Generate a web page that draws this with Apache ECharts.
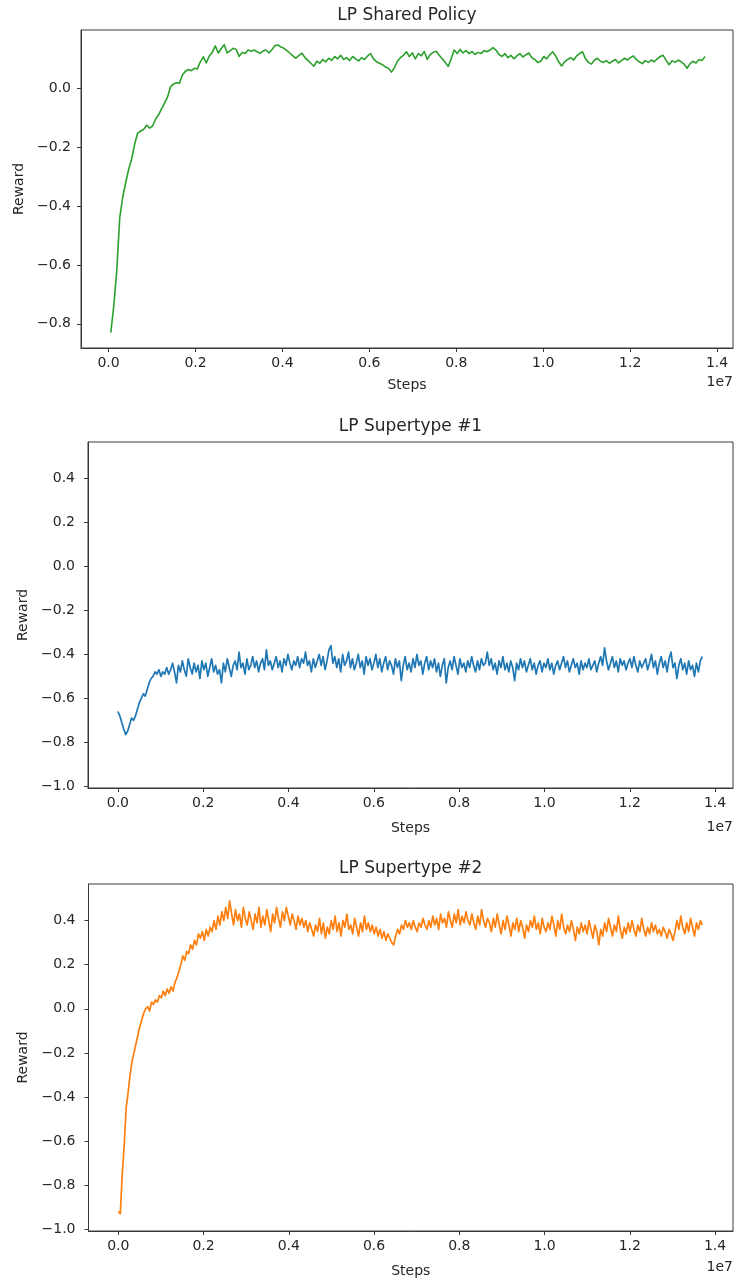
<!DOCTYPE html>
<html>
<head>
<meta charset="utf-8">
<title>LP reward curves</title>
<script src="https://cdn.jsdelivr.net/npm/echarts@6/dist/echarts.min.js"></script>
<style>
  html, body { margin: 0; padding: 0; background: #ffffff; }
  #chart { width: 734px; height: 1285px; }
</style>
</head>
<body>
<div id="chart"></div>
<script>
// ---- data (steps are in units of 1e7) ----
const panelTitles = ['LP Shared Policy', 'LP Supertype #1', 'LP Supertype #2'];

// shared policy: smoothed reward, logged at a regular step interval
const sharedStart = 0.005;
const sharedStepSize = 0.00687;
const sharedReward = [
  -0.83, -0.74, -0.62, -0.44, -0.37, -0.32, -0.275, -0.24, -0.19, -0.152,
  -0.145, -0.14, -0.125, -0.135, -0.128, -0.105, -0.09, -0.07, -0.05, -0.03,
  0.005, 0.015, 0.019, 0.017, 0.045, 0.058, 0.064, 0.06, 0.068, 0.066,
  0.09, 0.107, 0.086, 0.11, 0.122, 0.144, 0.12, 0.135, 0.148, 0.12,
  0.128, 0.136, 0.132, 0.108, 0.122, 0.118, 0.13, 0.126, 0.13, 0.124,
  0.119, 0.127, 0.13, 0.12, 0.132, 0.145, 0.147, 0.14, 0.136, 0.128,
  0.119, 0.11, 0.102, 0.112, 0.119, 0.105, 0.095, 0.085, 0.075, 0.092,
  0.085, 0.098, 0.09, 0.102, 0.095, 0.108, 0.1, 0.112, 0.098, 0.104,
  0.094, 0.108, 0.1, 0.093, 0.104, 0.098, 0.11, 0.118, 0.1, 0.09,
  0.085, 0.08, 0.072, 0.068, 0.055, 0.07, 0.092, 0.104, 0.112, 0.124,
  0.108, 0.12, 0.1, 0.118, 0.11, 0.125, 0.098, 0.115, 0.122, 0.126,
  0.112, 0.1, 0.088, 0.074, 0.1, 0.13, 0.118, 0.132, 0.12, 0.128,
  0.118, 0.125, 0.115, 0.122, 0.118, 0.128, 0.124, 0.13, 0.138, 0.13,
  0.115, 0.108, 0.118, 0.104, 0.112, 0.1, 0.11, 0.118, 0.106, 0.114,
  0.12, 0.104, 0.098, 0.088, 0.092, 0.108, 0.1, 0.114, 0.124, 0.11,
  0.09, 0.076, 0.09, 0.098, 0.104, 0.096, 0.11, 0.118, 0.124, 0.1,
  0.088, 0.082, 0.096, 0.102, 0.092, 0.088, 0.094, 0.085, 0.092, 0.098,
  0.086, 0.094, 0.102, 0.096, 0.104, 0.11, 0.098, 0.09, 0.084, 0.094,
  0.088, 0.096, 0.09, 0.1, 0.108, 0.112, 0.095, 0.08, 0.094, 0.088,
  0.096, 0.09, 0.082, 0.068, 0.084, 0.092, 0.086, 0.098, 0.094, 0.108
];

// supertype runs: raw episode reward
const superStart = 0;
const superStepSize = 0.004582;
const super1Reward = [
  -0.66, -0.68, -0.71, -0.74, -0.765, -0.75, -0.72, -0.69, -0.70, -0.68,
  -0.65, -0.62, -0.6, -0.58, -0.59, -0.56, -0.53, -0.51, -0.5, -0.48,
  -0.49, -0.47, -0.5, -0.48, -0.49, -0.46, -0.49, -0.47, -0.44, -0.48,
  -0.53, -0.45, -0.48, -0.43, -0.47, -0.5, -0.42, -0.46, -0.49, -0.44,
  -0.48, -0.45, -0.51, -0.43, -0.47, -0.44, -0.5, -0.46, -0.42, -0.48,
  -0.45, -0.49, -0.47, -0.53, -0.44, -0.48, -0.42, -0.46, -0.5, -0.45,
  -0.43, -0.47, -0.39, -0.46, -0.44, -0.49, -0.42, -0.47, -0.45, -0.41,
  -0.46, -0.43, -0.48, -0.44, -0.42, -0.47, -0.38, -0.45, -0.43, -0.47,
  -0.44, -0.41, -0.46, -0.43, -0.48, -0.42, -0.45, -0.4, -0.44, -0.47,
  -0.43, -0.45, -0.41, -0.46, -0.42, -0.44, -0.39, -0.45, -0.43, -0.48,
  -0.42, -0.46, -0.43, -0.4, -0.45, -0.41, -0.47, -0.43, -0.38, -0.36,
  -0.44, -0.41, -0.46, -0.42, -0.48, -0.4, -0.45, -0.43, -0.39, -0.46,
  -0.42, -0.47, -0.44, -0.4, -0.46, -0.43, -0.49, -0.41, -0.45, -0.42,
  -0.47, -0.44, -0.4, -0.46, -0.42, -0.48, -0.44, -0.41, -0.47, -0.43,
  -0.45, -0.49, -0.42, -0.46, -0.43, -0.52, -0.45, -0.41, -0.47, -0.44,
  -0.48, -0.42, -0.46, -0.4, -0.45, -0.43, -0.49, -0.44, -0.41, -0.47,
  -0.43, -0.46, -0.42, -0.48, -0.44, -0.5, -0.45, -0.42, -0.53, -0.46,
  -0.43, -0.47, -0.41, -0.45, -0.49, -0.42, -0.46, -0.44, -0.48, -0.43,
  -0.46, -0.41, -0.45, -0.48, -0.43, -0.47, -0.42, -0.45, -0.44, -0.39,
  -0.45, -0.42, -0.47, -0.44, -0.49, -0.43, -0.46, -0.41, -0.47, -0.44,
  -0.48, -0.43, -0.46, -0.52, -0.44, -0.47, -0.42, -0.46, -0.43, -0.48,
  -0.45, -0.42, -0.47, -0.44, -0.49, -0.45, -0.43, -0.48, -0.44, -0.46,
  -0.42, -0.47, -0.44, -0.49, -0.45, -0.43, -0.47, -0.44, -0.41, -0.46,
  -0.43, -0.48, -0.45, -0.42, -0.46, -0.44, -0.49, -0.43, -0.47, -0.44,
  -0.46, -0.42, -0.47, -0.45, -0.43, -0.48, -0.44, -0.41, -0.45, -0.37,
  -0.43, -0.47, -0.44, -0.41, -0.46, -0.43, -0.48, -0.42, -0.45, -0.43,
  -0.47, -0.44, -0.42, -0.46, -0.41, -0.45, -0.48, -0.43, -0.46, -0.44,
  -0.42, -0.47, -0.44, -0.4, -0.46, -0.43, -0.49, -0.44, -0.41, -0.46,
  -0.43, -0.48, -0.42, -0.39, -0.46, -0.44, -0.51, -0.45, -0.42, -0.47,
  -0.44, -0.49, -0.43, -0.47, -0.45, -0.5, -0.44, -0.48, -0.43, -0.41
];
const super2Reward = [
  -0.92, -0.93, -0.75, -0.62, -0.45, -0.38, -0.3, -0.24, -0.2, -0.16,
  -0.12, -0.08, -0.05, -0.02, 0.0, 0.01, -0.01, 0.03, 0.02, 0.04,
  0.03, 0.06, 0.05, 0.08, 0.06, 0.09, 0.07, 0.1, 0.08, 0.12,
  0.14, 0.17, 0.2, 0.24, 0.22, 0.26, 0.25, 0.29, 0.27, 0.31,
  0.29, 0.34, 0.32, 0.35, 0.31, 0.36, 0.33, 0.37, 0.35, 0.4,
  0.36, 0.42, 0.38, 0.44, 0.4, 0.46, 0.41, 0.49, 0.43, 0.38,
  0.45, 0.4, 0.43, 0.37, 0.46, 0.41, 0.38, 0.44, 0.4, 0.36,
  0.43, 0.39, 0.46, 0.37, 0.42, 0.38, 0.45, 0.4, 0.35, 0.43,
  0.39, 0.46, 0.41, 0.37, 0.44, 0.4, 0.46, 0.42, 0.38, 0.43,
  0.4, 0.36, 0.42, 0.38, 0.41, 0.37, 0.4, 0.35, 0.39, 0.36,
  0.33, 0.38, 0.35, 0.41, 0.34, 0.39, 0.32, 0.37, 0.34, 0.4,
  0.36, 0.42, 0.35, 0.39, 0.33, 0.4, 0.37, 0.43, 0.36, 0.38,
  0.34, 0.41, 0.37, 0.33, 0.39, 0.35, 0.42, 0.36, 0.39, 0.35,
  0.38, 0.34, 0.37, 0.33, 0.36, 0.32, 0.35, 0.31, 0.34, 0.32,
  0.3, 0.29, 0.33, 0.36, 0.34, 0.38, 0.36, 0.4, 0.37, 0.39,
  0.36, 0.4, 0.37, 0.35, 0.39, 0.37, 0.41, 0.38, 0.36, 0.4,
  0.37, 0.42, 0.38, 0.41, 0.36, 0.43, 0.39, 0.41, 0.37, 0.44,
  0.4, 0.37, 0.43, 0.39, 0.45, 0.38, 0.42, 0.39, 0.44, 0.4,
  0.38, 0.43, 0.39, 0.36, 0.42, 0.38, 0.45, 0.4, 0.37, 0.41,
  0.39, 0.35, 0.41, 0.37, 0.43, 0.38, 0.34, 0.4, 0.36, 0.42,
  0.38, 0.33, 0.39, 0.36, 0.41, 0.35, 0.4, 0.37, 0.32, 0.38,
  0.35, 0.4, 0.37, 0.42, 0.36, 0.39, 0.34, 0.41, 0.37, 0.35,
  0.39, 0.36, 0.42, 0.38, 0.33, 0.4, 0.36, 0.43, 0.37, 0.34,
  0.38, 0.35, 0.4, 0.36, 0.31, 0.37, 0.34, 0.39, 0.35, 0.38,
  0.34, 0.4, 0.36, 0.32, 0.38, 0.35, 0.29, 0.36, 0.33, 0.39,
  0.35, 0.41, 0.37, 0.33, 0.38, 0.35, 0.42, 0.36, 0.32, 0.37,
  0.34, 0.39, 0.35, 0.4, 0.36, 0.33, 0.38, 0.35, 0.41, 0.36,
  0.33, 0.37, 0.34, 0.39, 0.35, 0.38, 0.34, 0.36, 0.33, 0.37,
  0.35, 0.32, 0.36, 0.34, 0.31, 0.35, 0.4, 0.36, 0.42, 0.37,
  0.34, 0.39, 0.35, 0.41, 0.37, 0.33, 0.39, 0.36, 0.4, 0.38
];

const xTickValues = [0.0, 0.2, 0.4, 0.6, 0.8, 1.0, 1.2, 1.4];
const sharedYTicks = [-0.8, -0.6, -0.4, -0.2, 0.0];
const superYTicks = [-1.0, -0.8, -0.6, -0.4, -0.2, 0.0, 0.2, 0.4];
const xAxisTitle = 'Steps';
const yAxisTitle = 'Reward';
const xScaleNote = '1e7';

// ---- helpers ----
function toPairs(start, step, values) {
  return values.map((v, i) => [start + i * step, v]);
}
const FONT = 'DejaVu Sans';
const INK = '#262626';
const SPINE = '#3a3a3a';
const fmt = v => v.toFixed(1).replace('-', '\u2212');

// panel geometry in px
const panels = [
  { top: 30,  height: 318, left: 81,  xMin: -0.0635, xMax: 1.4366, yMin: -0.882, yMax: 0.198,
    yTicks: sharedYTicks, color: '#2ca02c', width: 1.6, data: toPairs(sharedStart, sharedStepSize, sharedReward),
    titleY: 6, yNameGap: 52, yLabelMargin: 10, xNameGap: 30, noteTop: 375 },
  { top: 442, height: 346, left: 88,  xMin: -0.07, xMax: 1.442, yMin: -1.008, yMax: 0.566,
    yTicks: superYTicks, color: '#1f77b4', width: 1.7, data: toPairs(superStart, superStepSize, super1Reward),
    titleY: 417, yNameGap: 57, yLabelMargin: 13, xNameGap: 33, noteTop: 820 },
  { top: 884, height: 347, left: 88.5, xMin: -0.07, xMax: 1.442, yMin: -1.008, yMax: 0.566,
    yTicks: superYTicks, color: '#ff7f0e', width: 1.7, data: toPairs(superStart, superStepSize, super2Reward),
    titleY: 859, yNameGap: 57, yLabelMargin: 13, xNameGap: 33, noteTop: 1260 }
];

const option = {
  animation: false,
  backgroundColor: '#ffffff',
  title: panels.map((p, i) => ({
    text: panelTitles[i],
    left: p.left + (733 - p.left) / 2,
    textAlign: 'center',
    top: p.titleY,
    padding: 0,
    textStyle: { fontFamily: FONT, fontSize: 17, fontWeight: 'normal', color: INK, lineHeight: 20 }
  })),
  grid: panels.map(p => ({
    left: p.left, right: 1, top: p.top, height: p.height,
    show: true, borderColor: SPINE, borderWidth: 1, backgroundColor: 'transparent',
    containLabel: false
  })),
  xAxis: panels.map((p, i) => ({
    type: 'value', gridIndex: i, min: p.xMin, max: p.xMax,
    name: xAxisTitle, nameLocation: 'middle', nameGap: p.xNameGap,
    nameTextStyle: { fontFamily: FONT, fontSize: 14, color: INK },
    axisLine: { show: true, onZero: false, lineStyle: { color: SPINE, width: 1 } },
    axisTick: { show: true, inside: false, length: 4, customValues: xTickValues, lineStyle: { color: SPINE } },
    axisLabel: { show: true, customValues: xTickValues, formatter: fmt, margin: 8,
      fontFamily: FONT, fontSize: 14, color: INK },
    splitLine: { show: false }
  })),
  yAxis: panels.map((p, i) => ({
    type: 'value', gridIndex: i, min: p.yMin, max: p.yMax,
    name: yAxisTitle, nameLocation: 'middle', nameGap: p.yNameGap, nameRotate: 90,
    nameTextStyle: { fontFamily: FONT, fontSize: 14, color: INK },
    axisLine: { show: true, onZero: false, lineStyle: { color: SPINE, width: 1 } },
    axisTick: { show: true, inside: false, length: 4, customValues: p.yTicks, lineStyle: { color: SPINE } },
    axisLabel: { show: true, customValues: p.yTicks, formatter: fmt, margin: p.yLabelMargin,
      fontFamily: FONT, fontSize: 14, color: INK },
    splitLine: { show: false }
  })),
  graphic: panels.map(p => ({
    type: 'text', right: 1, top: p.noteTop,
    style: { text: xScaleNote, font: '14px "DejaVu Sans"', fill: INK }
  })),
  series: panels.map((p, i) => ({
    type: 'line', xAxisIndex: i, yAxisIndex: i,
    data: p.data, showSymbol: false, symbol: 'none', clip: true,
    lineStyle: { color: p.color, width: p.width, join: 'round' },
    itemStyle: { color: p.color },
    emphasis: { disabled: true }
  }))
};

const chart = echarts.init(document.getElementById('chart'), null, { renderer: 'canvas' });
chart.setOption(option);
</script>
</body>
</html>
